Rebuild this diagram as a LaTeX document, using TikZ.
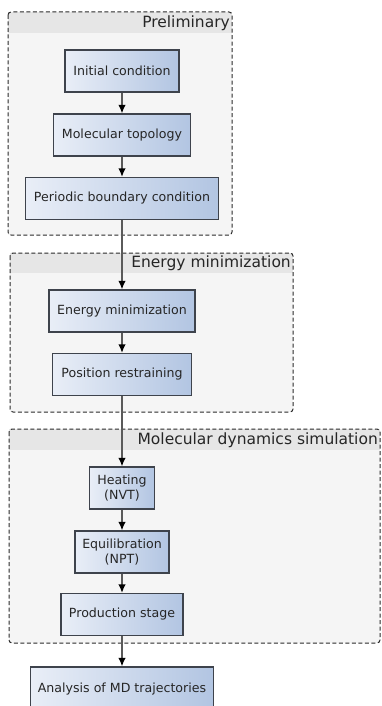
\documentclass[tikz,border=0pt]{standalone}
\usepackage{fontspec}
\setmainfont{DejaVu Sans}
\usepackage{xcolor}
\usetikzlibrary{arrows.meta, positioning}
\definecolor{boxlight} {HTML}{E9EEF7}
\definecolor{boxdark}  {HTML}{B2C5E2}
\definecolor{boxedge}  {HTML}{3E434C}
\definecolor{grpfill}  {HTML}{F5F5F5}
\definecolor{grphead}  {HTML}{E6E6E6}
\definecolor{grpedge}  {HTML}{2A2A2A}
\definecolor{flowline} {HTML}{5A5A5A}
\definecolor{inktext}  {HTML}{262626}

\begin{document}
\begin{tikzpicture}[x=1pt, y=-1pt,
  % One unit is one pixel of the layout, y running downwards.
  stage/.style={draw=boxedge, line width=1.3pt, left color=boxlight, right color=boxdark,
                minimum height=42pt, inner sep=2pt, align=center, text=inktext,
                font=\fontsize{12.6}{14.5}\selectfont},
  group/.style={draw=grpedge, dash pattern=on 4pt off 2.5pt, line width=1pt,
                rounded corners=3pt, fill=grpfill},
  grouptitle/.style={anchor=east, inner sep=1pt, text=inktext,
                     font=\fontsize{15.5}{17}\selectfont},
  flow/.style={-{Latex[length=8.5pt, width=7.5pt, color=black]}, draw=flowline, line width=1.3pt}
]
\useasboundingbox (0,0) rectangle (381,706);

% --- Group frames ---
\fill[grpfill] (8,12) rectangle (232,235);
\fill[grphead] (8,12) rectangle (232,33);
\draw[group, fill=none] (8,12) rectangle (232,235);
\node[grouptitle] (tprelim) at (231,23) {Preliminary};

\fill[grpfill] (10,253) rectangle (293,412);
\fill[grphead] (10,253) rectangle (293,273);
\draw[group, fill=none] (10,253) rectangle (293,412);
\node[grouptitle] (tenergy) at (292,263.5) {Energy minimization};

\fill[grpfill] (9,429) rectangle (380,643);
\fill[grphead] (9,429) rectangle (380,450);
\draw[group, fill=none] (9,429) rectangle (380,643);
\node[grouptitle] (tmd) at (379,440) {Molecular dynamics simulation};

% --- Preliminary ---
\node[stage, minimum width=114pt] (init) at (122,71)    {Initial condition};
\node[stage, minimum width=137pt] (topo) at (122,135)   {Molecular topology};
\node[stage, minimum width=193pt] (pbc)  at (122,198.5) {Periodic boundary condition};

% --- Energy minimization ---
\node[stage, minimum width=146pt] (emin) at (122,311)   {Energy minimization};
\node[stage, minimum width=139pt] (posr) at (122,374.5) {Position restraining};

% --- Molecular dynamics ---
\node[stage, minimum width=65pt]  (heat)  at (122,488)   {Heating\\(NVT)};
\node[stage, minimum width=94pt]  (equil) at (122,552)   {Equilibration\\(NPT)};
\node[stage, minimum width=122pt] (prod)  at (122,614.5) {Production stage};

% --- Analysis ---
\node[stage, minimum width=183pt, minimum height=44pt] (anal) at (122,689) {Analysis of MD trajectories};

% --- Flow arrows ---
\draw[flow] (init) -- (topo);
\draw[flow] (topo) -- (pbc);
\draw[flow] (pbc) -- (emin);
\draw[flow] (emin) -- (posr);
\draw[flow] (posr) -- (heat);
\draw[flow] (heat) -- (equil);
\draw[flow] (equil) -- (prod);
\draw[flow] (prod) -- (anal);

\end{tikzpicture}
\end{document}
